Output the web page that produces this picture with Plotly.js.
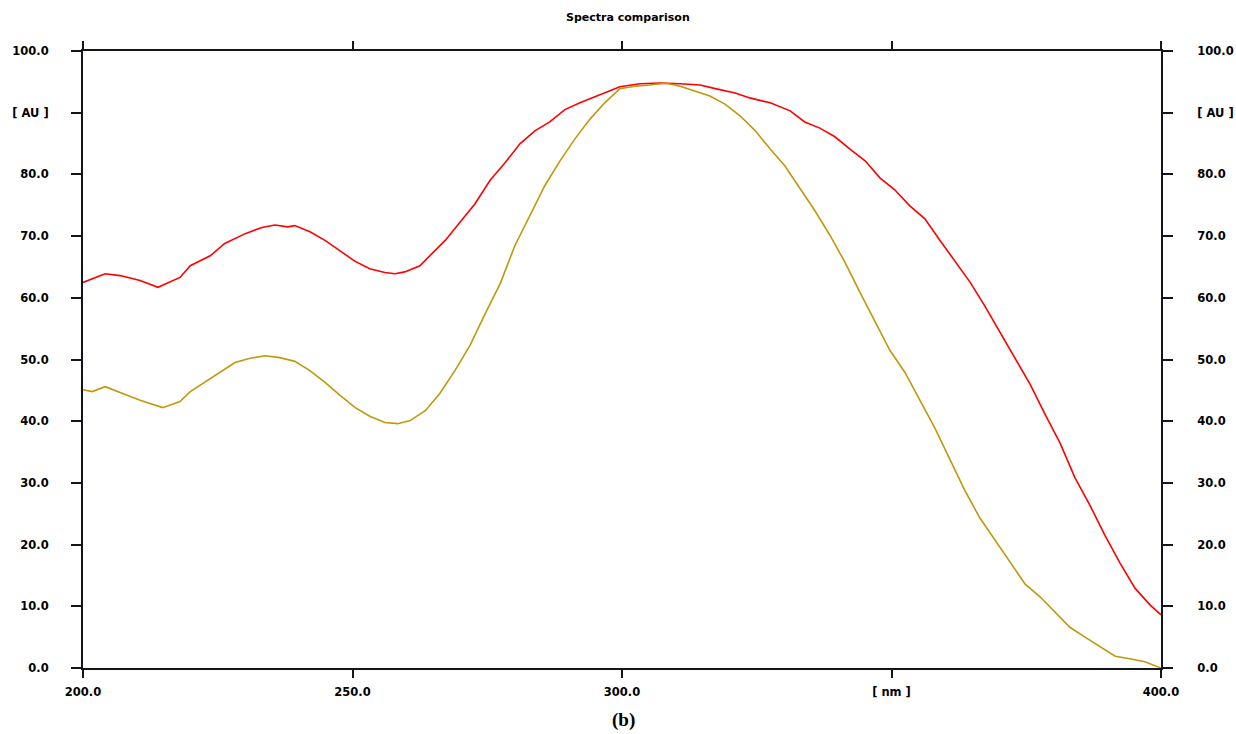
<!DOCTYPE html>
<html>
<head>
<meta charset="utf-8">
<script src="https://cdn.plot.ly/plotly-3.0.1.min.js"></script>
<style>html,body{margin:0;padding:0;background:#fff;}#chart{width:1236px;height:734px;}</style>
</head>
<body>
<div id="chart"></div>
<script>
const redX = [200.0,204.1,206.9,210.6,213.9,218.0,219.9,223.6,226.3,230.1,233.2,235.6,238.0,239.3,242.1,244.9,247.7,250.5,253.2,256.0,257.9,259.7,262.5,264.7,267.2,269.9,272.7,275.5,278.3,281.1,283.9,286.6,289.4,292.2,295.9,299.6,303.3,307.1,310.8,314.5,317.3,321.0,323.7,327.5,331.2,333.9,336.7,339.5,342.3,345.1,347.9,350.6,353.4,356.2,359.0,361.8,364.6,367.3,370.1,372.9,375.7,378.5,381.3,384.0,386.8,389.6,392.4,395.2,398.0,400.0];
const redY = [62.5,63.9,63.6,62.8,61.7,63.3,65.2,66.8,68.8,70.4,71.4,71.8,71.5,71.7,70.7,69.3,67.6,65.9,64.7,64.1,63.9,64.2,65.2,67.2,69.3,72.2,75.2,79.0,81.9,85.0,87.1,88.5,90.5,91.6,92.9,94.2,94.7,94.8,94.7,94.5,93.9,93.2,92.4,91.6,90.3,88.5,87.5,86.1,84.1,82.2,79.4,77.5,74.9,72.8,69.3,66.0,62.5,58.7,54.4,50.3,46.0,41.1,36.4,30.9,26.4,21.5,17.0,12.9,10.2,8.6];
const oliveX = [200.0,201.7,204.1,206.9,210.6,214.8,218.0,219.9,222.6,225.4,228.2,231.0,233.8,236.5,239.3,242.1,244.9,247.7,250.5,253.2,256.0,258.4,260.7,263.5,266.2,269.0,271.8,274.6,277.4,280.1,282.9,285.7,288.5,291.3,294.1,296.8,299.6,302.4,305.2,308.0,310.8,313.5,316.3,319.1,321.9,324.7,327.5,330.2,333.0,335.8,338.6,341.4,344.2,346.9,349.7,352.5,355.3,358.1,360.9,363.6,366.4,369.2,372.0,374.8,377.6,380.3,383.1,385.9,388.7,391.5,394.2,397.0,400.0];
const oliveY = [45.1,44.8,45.6,44.7,43.4,42.2,43.2,44.8,46.3,47.9,49.5,50.2,50.6,50.3,49.7,48.2,46.3,44.2,42.2,40.8,39.8,39.6,40.1,41.7,44.5,48.2,52.3,57.4,62.3,68.4,73.3,78.2,82.2,85.8,89.0,91.6,93.9,94.3,94.5,94.8,94.3,93.5,92.7,91.4,89.5,87.1,84.1,81.4,77.7,74.1,70.1,65.7,60.8,56.3,51.5,47.9,43.4,38.8,33.7,28.8,24.3,20.7,17.0,13.6,11.5,9.1,6.6,5.0,3.4,1.9,1.5,1.0,0.0];
const yTickVals = [0,10,20,30,40,50,60,70,80,90,100];
const yTickText = ["0.0","10.0","20.0","30.0","40.0","50.0","60.0","70.0","80.0","[ AU ]","100.0"];
const xTickVals = [200,250,300,350,400];
const xTickText = ["200.0","250.0","300.0","[ nm ]","400.0"];

const bold = arr => arr.map(t => '<b>' + t + '</b>');
const axisColor = '#14141e';
const tickFont = {family:'DejaVu Sans, Verdana, sans-serif', size:11.5, color:'#000'};

const traces = [
  {x: redX, y: redY, type:'scatter', mode:'lines', line:{color:'#ff0000', width:1.6}, hoverinfo:'skip'},
  {x: oliveX, y: oliveY, type:'scatter', mode:'lines', line:{color:'#bf980c', width:1.6}, hoverinfo:'skip'},
  {x:[200], y:[0], yaxis:'y2', type:'scatter', mode:'markers', marker:{opacity:0}, hoverinfo:'skip'}
];

const layout = {
  width:1236, height:734,
  margin:{l:83, r:75, t:51, b:66},
  paper_bgcolor:'#fff', plot_bgcolor:'#fff',
  showlegend:false,
  title:{text:'<b>Spectra comparison</b>', font:{family:'DejaVu Sans, Verdana, sans-serif', size:11, color:'#000'}, x:0.508, xanchor:'center', y:0.977, yanchor:'middle'},
  xaxis:{range:[200,400], tickvals:xTickVals, ticktext:bold(xTickText), ticks:'outside', ticklen:8, tickwidth:2, tickcolor:axisColor,
    showline:true, linecolor:axisColor, linewidth:2, mirror:'ticks', showgrid:false, zeroline:false,
    tickfont:tickFont, ticklabelstandoff:4},
  yaxis:{range:[0,100], tickvals:yTickVals, ticktext:bold(yTickText), ticks:'outside', ticklen:10, tickwidth:2, tickcolor:axisColor,
    showline:true, linecolor:axisColor, linewidth:2, showgrid:false, zeroline:false,
    tickfont:tickFont, ticklabelstandoff:20},
  yaxis2:{range:[0,100], overlaying:'y', side:'right', tickvals:yTickVals, ticktext:bold(yTickText), ticks:'outside', ticklen:10, tickwidth:2, tickcolor:axisColor,
    showline:true, linecolor:axisColor, linewidth:2, showgrid:false, zeroline:false,
    tickfont:tickFont, ticklabelstandoff:22},
  annotations:[{text:'<b>(b)</b>', xref:'paper', yref:'paper', x:0.501, y:-0.085, xanchor:'center', yanchor:'middle', showarrow:false,
    font:{family:'Liberation Serif, Times New Roman, serif', size:19, color:'#000'}}]
};

Plotly.newPlot('chart', traces, layout, {staticPlot:true, displayModeBar:false});
</script>
</body>
</html>
